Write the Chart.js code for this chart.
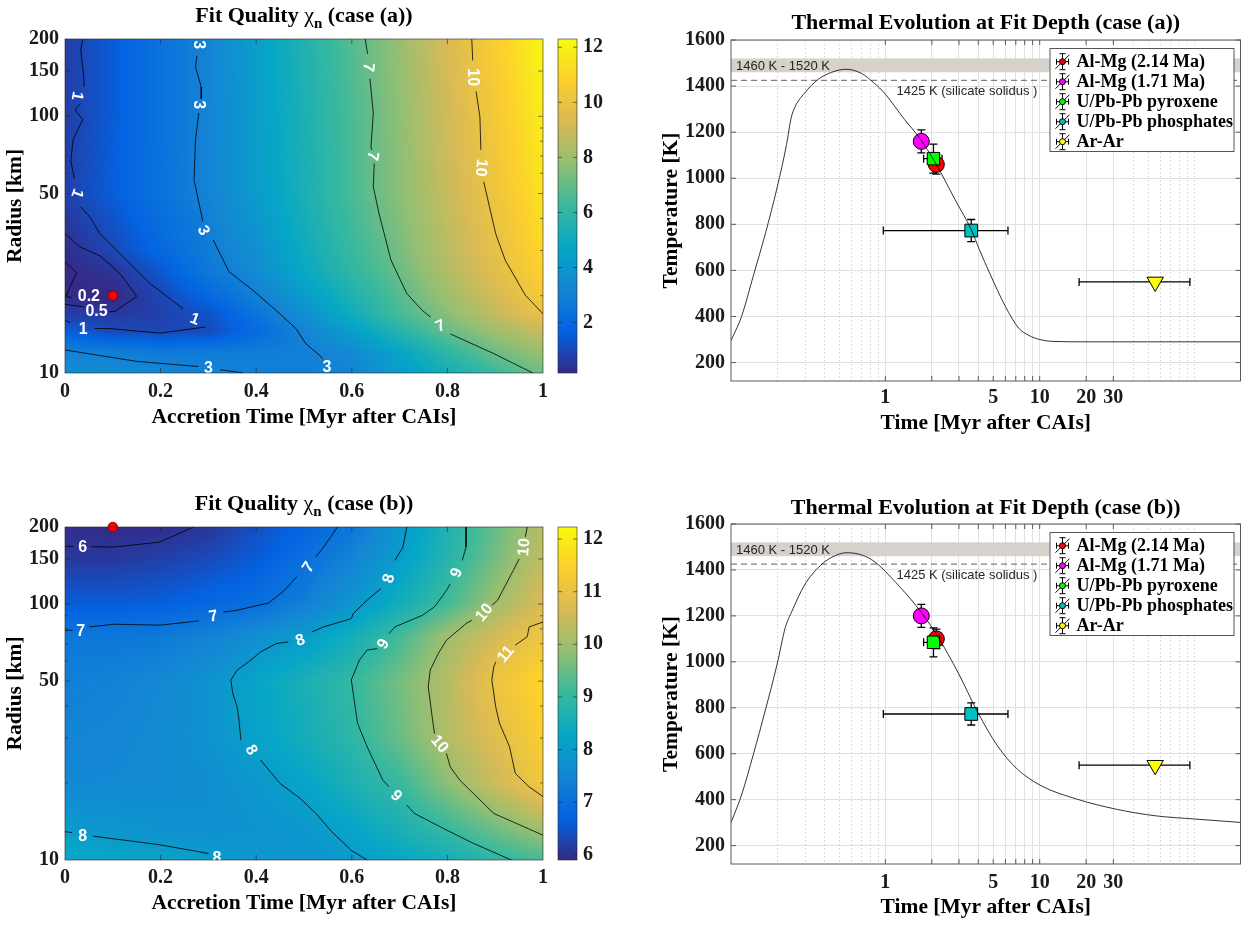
<!DOCTYPE html>
<html>
<head>
<meta charset="utf-8">
<title>Fit quality and thermal evolution</title>
<script src="https://cdn.jsdelivr.net/npm/chart.js@4.4.1/dist/chart.umd.min.js"></script>
<style>
  body { margin: 0; background: #fff; }
  #wrap { position: relative; width: 1251px; height: 925px; overflow: hidden; background: #fff; }
  canvas { position: absolute; }
</style>
</head>
<body>
<div id="wrap">
  <canvas id="mapA" width="555" height="440" style="left:0;top:0"></canvas>
  <canvas id="barA" width="80" height="440" style="left:540px;top:0"></canvas>
  <canvas id="thermA" width="631" height="450" style="left:620px;top:0"></canvas>
  <canvas id="mapB" width="555" height="445" style="left:0;top:480px"></canvas>
  <canvas id="barB" width="80" height="445" style="left:540px;top:480px"></canvas>
  <canvas id="thermB" width="631" height="445" style="left:620px;top:480px"></canvas>
</div>
<script>
// ---------- fit quality grids (rows = radius, columns = accretion time) ----------
const accTimes = [0, 0.1, 0.2, 0.3, 0.4, 0.5, 0.6, 0.7, 0.8, 0.9, 1];

const radiiA = [10, 12, 14.5, 17, 20, 25, 30, 50, 100, 200];
const chiA = [
  [3.6, 3.45, 3.3, 3.15, 2.97, 2.9, 3.15, 4.2, 5.2, 6.2, 7.2],
  [3.05, 2.9, 2.75, 2.75, 2.8, 2.95, 3.4, 4.6, 5.9, 7.1, 7.9],
  [1.6, 1.0, 0.95, 1.05, 2.0, 3.1, 4.3, 5.7, 7.0, 8.0, 8.9],
  [0.7, 0.55, 0.75, 1.25, 2.45, 3.6, 5.1, 6.5, 7.6, 8.8, 9.9],
  [0.2, 0.1, 0.9, 1.9, 2.95, 4.2, 5.5, 6.75, 8.0, 9.2, 10.5],
  [0.17, 0.45, 1.4, 2.6, 3.5, 4.8, 6.0, 7.1, 8.4, 9.6, 10.9],
  [0.25, 0.95, 1.9, 2.8, 3.7, 5.0, 6.2, 7.3, 8.6, 9.8, 11.1],
  [0.75, 1.55, 2.35, 3.12, 4.2, 5.35, 6.5, 7.65, 8.9, 10.15, 11.5],
  [0.7, 1.5, 2.3, 3.15, 4.25, 5.4, 6.55, 7.7, 9.1, 10.4, 11.8],
  [0.7, 1.5, 2.3, 3.15, 4.35, 5.55, 6.7, 7.9, 9.3, 10.7, 12.1]
];
const chiRangeA = [0.17, 12.3];
const barTicksA = [2, 4, 6, 8, 10, 12];
const bestFitA = [0.1, 20];

const radiiB = [10, 13, 20, 30, 50, 75, 100, 150, 200];
const chiB = [
  [8.35, 8.25, 8.15, 8.05, 7.9, 7.85, 7.95, 8.25, 8.55, 8.9, 9.2],
  [8.0, 7.9, 7.8, 7.75, 7.8, 7.9, 8.2, 8.6, 9.0, 9.5, 10.0],
  [7.55, 7.55, 7.6, 7.7, 7.9, 8.2, 8.65, 9.05, 9.8, 10.5, 11.2],
  [7.45, 7.5, 7.6, 7.8, 8.15, 8.5, 8.9, 9.5, 10.2, 10.8, 11.4],
  [7.35, 7.4, 7.55, 7.8, 8.2, 8.6, 9.0, 9.6, 10.25, 11.05, 11.6],
  [7.15, 7.15, 7.2, 7.4, 7.7, 8.0, 8.5, 9.15, 10.0, 10.6, 11.1],
  [6.6, 6.6, 6.65, 6.8, 6.95, 7.35, 7.85, 8.5, 9.15, 10.0, 10.7],
  [6.1, 6.1, 6.2, 6.35, 6.6, 6.95, 7.45, 8.05, 8.8, 9.6, 10.4],
  [5.95, 5.9, 5.95, 6.05, 6.4, 6.75, 7.15, 7.88, 8.7, 9.45, 10.25]
];
const chiRangeB = [5.9, 12.23];
const barTicksB = [6, 7, 8, 9, 10, 11, 12];
const bestFitB = [0.1, 200];

// contour lines [time, radius], null = gap for the label
const contA_02 = [[0, 27.1], [0.024, 24.6], [0.004, 20.3], [0.003, 19.8], [0.014, 19.7]];
const contA_05 = [[0, 34.9], [0.031, 31], [0.073, 28.6], [0.115, 24.4], [0.15, 19.9], [0.105, 17.4], [0.092, 17.3], null, [0.04, 18.1], [0, 18.5]];
const contA_1 = [[0.037, 200], [0.033, 181], [0.039, 143], [0.04, 130], null,
  [0.032, 112], [0.021, 106], [0.037, 97], [0.017, 81], [0.012, 67], [0.02, 57], null,
  [0.033, 44.4], [0.052, 40.5], [0.073, 34.9], [0.129, 27.5], [0.178, 22.3], [0.247, 17.8], null,
  [0.293, 15.1], [0.199, 14.3], [0.094, 14.9], [0.062, 14.9], null, [0.012, 15.7], [0, 16.0]];
const contA_3 = [[0.276, 172], [0.273, 156], [0.285, 130], [0.285, 117], null,
  [0.28, 103], [0.273, 81], [0.27, 56.4], [0.285, 41.8], [0.288, 39], null,
  [0.31, 33], [0.343, 24.8], [0.393, 21], [0.442, 17.5], [0.483, 14.9], [0.504, 13], [0.533, 11.7], [0.54, 11.3]];
const contA_3low = [[0, 12.3], [0.073, 11.7], [0.15, 11.1], [0.279, 10.6], null, [0.325, 10.3], [0.373, 10]];
const contA_7 = [[0.628, 200], [0.633, 175], null, [0.638, 140], [0.645, 103], [0.64, 76], [0.642, 74], null,
  [0.647, 65.5], [0.645, 53.1], [0.657, 41.8], [0.682, 27.5], [0.715, 20.4], [0.748, 17.5], [0.765, 16.5], null,
  [0.806, 14.2], [0.897, 11.9], [0.979, 10]];
const contA_10 = [[0.851, 200], [0.853, 165], null, [0.86, 125], [0.868, 99.6], [0.87, 74], null,
  [0.876, 55.6], [0.888, 44.4], [0.901, 34.9], [0.921, 27.5], [0.963, 20.1], [1, 17.0]];
const labelsA = [
  ['3', 0.281, 190, 90], ['1', 0.027, 120, 100], ['3', 0.281, 111, 90], ['7', 0.636, 155, 95],
  ['10', 0.855, 142, 90], ['7', 0.645, 70, 100], ['10', 0.872, 63, 95], ['1', 0.027, 50, 110],
  ['3', 0.291, 36, 65], ['0.2', 0.05, 20.1, 0], ['0.5', 0.066, 17.5, 0], ['1', 0.272, 16.3, 20],
  ['1', 0.038, 14.9, 0], ['7', 0.785, 15.3, -25], ['3', 0.3, 10.5, 0], ['3', 0.548, 10.6, 0]
];

const contB_6 = [[0, 168], [0.018, 168], null, [0.055, 167.5], [0.103, 167], [0.198, 174.6], [0.269, 200]];
const contB_7 = [[0, 79], [0.016, 79], null, [0.05, 81.4], [0.103, 83.4], [0.198, 82.7], [0.26, 85.1], [0.28, 86], null,
  [0.331, 93], [0.36, 94.6], [0.426, 101], [0.459, 113], [0.485, 128], null, [0.525, 153], [0.541, 167], [0.57, 200]];
const contB_8 = [[0.715, 200], [0.707, 167], [0.69, 148], null, [0.661, 115], [0.632, 103.5], [0.603, 91.8], [0.599, 87.7],
  [0.541, 81.4], [0.517, 77.9], null, [0.467, 71.1], [0.442, 70.1], [0.409, 65], [0.384, 59.4], [0.36, 55.2], [0.347, 50.5],
  [0.351, 44.8], [0.36, 39.7], [0.364, 35.2], [0.368, 29.4], null, [0.409, 24.6], [0.45, 19.9], [0.492, 17.4],
  [0.525, 15.2], [0.558, 12.9], [0.599, 10.9], [0.632, 10]];
const contB_8low = [[0, 12.9], [0.015, 12.8], null, [0.058, 12.4], [0.087, 12.2], [0.194, 11.5], [0.277, 10.8], [0.3, 10.6]];
const contB_9 = [[0.839, 200], [0.839, 167], [0.831, 148], null, [0.806, 120], [0.798, 113], [0.773, 97.5], [0.748, 90.4],
  [0.69, 81.4], [0.678, 76.7], null, [0.653, 67], [0.632, 66.1], [0.616, 60.4], [0.599, 50.5], [0.607, 39.7], [0.612, 34.2],
  [0.632, 27.7], [0.665, 20.5], [0.678, 19.3], null, [0.715, 16.4], [0.731, 15.2], [0.798, 13.1], [0.855, 11.6], [0.934, 10]];
const contB_10 = [[0.967, 200], [0.963, 183], null, [0.95, 150], [0.938, 135.5], [0.905, 103.5], [0.893, 98.9], null,
  [0.851, 86.4], [0.839, 83.9], [0.798, 72.2], [0.781, 64.1], [0.764, 55.2], [0.76, 47.5], [0.769, 35.2], [0.773, 31.2], null,
  [0.798, 26.1], [0.806, 23.1], [0.826, 20.5], [0.897, 15.2], [1, 12.5]];
const contB_11 = [[1, 85.1], [0.971, 81.4], [0.967, 74.5], [0.942, 69.1], null, [0.901, 59.4], [0.897, 56.9], [0.893, 50.5],
  [0.901, 39.7], [0.909, 34.2], [0.93, 27.7], [0.942, 21.8], [0.971, 19.3], [1, 17.7]];
const labelsB = [
  ['6', 0.037, 167, 0], ['7', 0.508, 140, -55], ['8', 0.676, 126, -75], ['9', 0.818, 133, -70],
  ['10', 0.959, 167, -85], ['10', 0.876, 93, -50], ['7', 0.31, 90, -10], ['7', 0.033, 79, 0],
  ['8', 0.492, 72.6, -20], ['9', 0.665, 70, -60], ['11', 0.921, 64, -50], ['8', 0.391, 27, 60],
  ['10', 0.785, 28.5, 50], ['9', 0.694, 17.9, 45], ['8', 0.037, 12.5, 0], ['8', 0.318, 10.2, 0]
];

// ---------- thermal evolution ----------
const curveTimeA = [0.1, 0.117, 0.14, 0.167, 0.199, 0.229, 0.245, 0.26, 0.3, 0.367, 0.45, 0.555, 0.7, 0.84, 1.0, 1.33, 1.66, 2.11, 2.83, 3.6, 4.07, 4.74, 6.0, 7.3, 8.5, 10, 12, 20, 50, 200];
const curveTempA = [295, 400, 580, 760, 960, 1146, 1260, 1310, 1370, 1429, 1460, 1473, 1455, 1415, 1365, 1255, 1176, 1067, 907, 777, 690, 588, 443, 350, 318, 300, 292, 290, 290, 290];
const curveTimeB = [0.1, 0.117, 0.14, 0.167, 0.199, 0.225, 0.248, 0.3, 0.379, 0.45, 0.562, 0.814, 1.23, 1.72, 2.21, 2.96, 3.98, 5.33, 7.16, 10.2, 17.3, 31.1, 55.9, 100, 200];
const curveTempB = [300, 420, 600, 790, 990, 1150, 1220, 1335, 1419, 1455, 1475, 1445, 1329, 1213, 1105, 953, 779, 634, 533, 461, 403, 359, 330, 316, 301];

const sampleNames = ['Al-Mg (2.14 Ma)', 'Al-Mg (1.71 Ma)', 'U/Pb-Pb pyroxene', 'U/Pb-Pb phosphates', 'Ar-Ar'];
const sampleTimes = [2.14, 1.71, 2.05, 3.6, 56];
const sampleTimeErr = [0, 0, 0.28, 2.63, 38];
const sampleTempA = [1060, 1160, 1085, 773, 550];
const sampleTempB = [1100, 1200, 1085, 773, 550];
const sampleTempErr = [42, 50, 63, 48, 0];

const meltBand = [1460, 1520];
const solidus = 1425;
const timeTicks = [1, 2, 3, 4, 5, 6, 7, 8, 9, 10, 20, 30];
const timeLabels = [1, 5, 10, 20, 30];
const timeMinorGrid = [0.2, 0.3, 0.4, 0.5, 0.6, 0.7, 0.8, 0.9, 40, 50, 60, 70, 80, 90, 100];
const tempTicks = [200, 400, 600, 800, 1000, 1200, 1400, 1600];

// ---------- styling ----------
const serif = '"Liberation Serif", "Times New Roman", Times, serif';
const sans = '"Liberation Sans", Arial, Helvetica, sans-serif';
const tickFont = { family: serif, size: 20, weight: 'bold', lineHeight: 1.2 };
const axisFont = { family: serif, size: 21.5, weight: 'bold', lineHeight: 1.2 };
const inkColor = '#1a1a1a';
const markerColor = ['#ff0000', '#ff00ff', '#00ff00', '#00bfbf', '#ffff00'];
const markerStyle = ['circle', 'circle', 'rect', 'rect', 'triangle'];
const markerSize = [8, 8, 8.8, 9, 9.5];
const markerRot = [0, 0, 0, 0, 180];

const PARULA = ['#352a87', '#0363e1', '#1485d4', '#06a7c6', '#38b99e', '#92bf73', '#d9ba56', '#fcce2e', '#f9fb0e']
  .map(h => [parseInt(h.slice(1, 3), 16), parseInt(h.slice(3, 5), 16), parseInt(h.slice(5, 7), 16)]);

function parula(f) {
  f = Math.min(1, Math.max(0, f)) * (PARULA.length - 1);
  const i = Math.min(PARULA.length - 2, Math.floor(f));
  const u = f - i, a = PARULA[i], b = PARULA[i + 1];
  return [a[0] + (b[0] - a[0]) * u, a[1] + (b[1] - a[1]) * u, a[2] + (b[2] - a[2]) * u];
}

// bilinear lookup in (time, log radius)
function lookup(ts, rs, vals, t, r) {
  const lr = Math.log10(r);
  let i = 0;
  while (i < ts.length - 2 && t > ts[i + 1]) i++;
  let j = 0;
  while (j < rs.length - 2 && lr > Math.log10(rs[j + 1])) j++;
  const cl = v => Math.min(1, Math.max(0, v));
  const u = cl((t - ts[i]) / (ts[i + 1] - ts[i]));
  const l0 = Math.log10(rs[j]), l1 = Math.log10(rs[j + 1]);
  const v = cl((lr - l0) / (l1 - l0));
  return vals[j][i] * (1 - u) * (1 - v) + vals[j][i + 1] * u * (1 - v) +
    vals[j + 1][i] * (1 - u) * v + vals[j + 1][i + 1] * u * v;
}

function toPoints(line) {
  const out = [];
  let lastX = 0;
  line.forEach(p => {
    if (p) { out.push({ x: p[0], y: p[1] }); lastX = p[0]; }
    else out.push({ x: lastX, y: null });
  });
  return out;
}

function titlePlugin(parts, yc) {
  return {
    id: 'panelTitle',
    afterDraw(chart) {
      const { ctx, chartArea: a } = chart;
      ctx.save();
      ctx.fillStyle = '#000';
      ctx.textBaseline = 'alphabetic';
      let total = 0;
      const widths = parts.map(p => { ctx.font = p.font; const w = ctx.measureText(p.text).width; total += w; return w; });
      let x = (a.left + a.right) / 2 - total / 2;
      parts.forEach((p, k) => {
        ctx.font = p.font;
        ctx.fillText(p.text, x, yc + 7 + (p.dy || 0));
        x += widths[k];
      });
      ctx.restore();
    }
  };
}

function heatPlugin(rs, vals, range, labels, yMinor) {
  return {
    id: 'heat',
    beforeDatasetsDraw(chart) {
      const { ctx, chartArea: a, scales } = chart;
      const x0 = Math.round(a.left), y0 = Math.round(a.top);
      const w = Math.round(a.right) - x0, h = Math.round(a.bottom) - y0;
      const img = ctx.createImageData(w, h);
      const tcol = [];
      for (let i = 0; i < w; i++) tcol.push(scales.x.getValueForPixel(x0 + i + 0.5));
      for (let j = 0; j < h; j++) {
        const r = scales.y.getValueForPixel(y0 + j + 0.5);
        for (let i = 0; i < w; i++) {
          const v = lookup(accTimes, rs, vals, tcol[i], r);
          const c = parula((v - range[0]) / (range[1] - range[0]));
          const k = (j * w + i) * 4;
          img.data[k] = c[0]; img.data[k + 1] = c[1]; img.data[k + 2] = c[2]; img.data[k + 3] = 255;
        }
      }
      ctx.putImageData(img, x0, y0);
    },
    afterDatasetsDraw(chart) {
      const { ctx, chartArea: a, scales: { x, y } } = chart;
      ctx.save();
      ctx.beginPath();
      ctx.rect(a.left, a.top, a.right - a.left, a.bottom - a.top);
      ctx.clip();
      ctx.fillStyle = '#fff';
      ctx.font = `bold 16px ${sans}`;
      ctx.textAlign = 'center';
      ctx.textBaseline = 'middle';
      labels.forEach(([txt, t, r, ang]) => {
        ctx.save();
        ctx.translate(x.getPixelForValue(t), y.getPixelForValue(r));
        ctx.rotate(ang * Math.PI / 180);
        ctx.fillText(txt, 0, 1);
        ctx.restore();
      });
      ctx.restore();
      // axes box with inward ticks
      ctx.save();
      ctx.strokeStyle = 'rgba(38,38,38,0.75)';
      ctx.lineWidth = 0.8;
      ctx.strokeRect(a.left, a.top, a.right - a.left, a.bottom - a.top);
      ctx.beginPath();
      [0.2, 0.4, 0.6, 0.8].forEach(v => {
        const px = x.getPixelForValue(v);
        ctx.moveTo(px, a.bottom); ctx.lineTo(px, a.bottom - 5);
        ctx.moveTo(px, a.top); ctx.lineTo(px, a.top + 5);
      });
      [50, 100, 150].forEach(v => {
        const py = y.getPixelForValue(v);
        ctx.moveTo(a.left, py); ctx.lineTo(a.left + 5, py);
        ctx.moveTo(a.right, py); ctx.lineTo(a.right - 5, py);
      });
      yMinor.forEach(v => {
        const py = y.getPixelForValue(v);
        ctx.moveTo(a.left, py); ctx.lineTo(a.left + 3, py);
        ctx.moveTo(a.right, py); ctx.lineTo(a.right - 3, py);
      });
      ctx.stroke();
      ctx.restore();
    }
  };
}

function makeMap(id, rs, vals, range, contours, labels, best, caseTag, geo) {
  const datasets = contours.map(line => ({
    data: toPoints(line), showLine: true, spanGaps: false, borderColor: '#000', borderWidth: 0.8,
    pointRadius: 0, tension: 0, order: 2
  }));
  datasets.push({
    data: [{ x: best[0], y: best[1] }], pointRadius: 4.8, backgroundColor: '#ff0000',
    borderColor: '#7a0000', borderWidth: 0.8, clip: false, order: 1
  });
  new Chart(document.getElementById(id), {
    type: 'scatter',
    data: { datasets },
    options: {
      responsive: false, animation: false, events: [],
      layout: { padding: { left: 0, top: geo.top, right: 12, bottom: 0 } },
      plugins: { legend: { display: false }, tooltip: { enabled: false } },
      scales: {
        x: {
          type: 'linear', min: 0, max: 1,
          grid: { display: false, drawTicks: false }, border: { display: false },
          afterBuildTicks: s => { s.ticks = [0, 0.2, 0.4, 0.6, 0.8, 1].map(v => ({ value: v })); },
          ticks: { autoSkip: false, maxRotation: 0, padding: geo.xTickPad, color: inkColor, font: tickFont,
            callback: v => String(Math.round(v * 10) / 10) },
          title: { display: true, text: 'Accretion Time [Myr after CAIs]', color: '#000', font: axisFont,
            padding: { top: 0, bottom: geo.xTitlePad } },
          afterFit: s => { s.height = geo.xH; }
        },
        y: {
          type: 'logarithmic', min: 10, max: 200,
          grid: { display: false, drawTicks: false }, border: { display: false },
          afterBuildTicks: s => { s.ticks = [10, 50, 100, 150, 200].map(v => ({ value: v })); },
          ticks: { autoSkip: false, padding: 6, color: inkColor, font: tickFont, callback: v => String(v) },
          title: { display: true, text: 'Radius [km]', color: '#000', font: axisFont, padding: { top: 3, bottom: 0 } },
          afterFit: s => { s.width = 65; }
        }
      }
    },
    plugins: [
      heatPlugin(rs, vals, range, labels, [20, 30, 40, 60, 70, 80, 90]),
      titlePlugin([
        { text: 'Fit Quality ', font: `bold 22px ${serif}` },
        { text: 'χ', font: `22px ${serif}` },
        { text: 'n', font: `bold 15px ${serif}`, dy: 6 },
        { text: ` (case (${caseTag}))`, font: `bold 22px ${serif}` }
      ], geo.titleY)
    ]
  });
}

function makeBar(id, range, ticks, geo) {
  const barPlugin = {
    id: 'colorbar',
    beforeDatasetsDraw(chart) {
      const { ctx, chartArea: a, scales: { y } } = chart;
      for (let py = Math.floor(a.top); py < Math.ceil(a.bottom); py++) {
        const v = y.getValueForPixel(py + 0.5);
        const c = parula((v - range[0]) / (range[1] - range[0]));
        ctx.fillStyle = `rgb(${c[0] | 0},${c[1] | 0},${c[2] | 0})`;
        ctx.fillRect(a.left, py, a.right - a.left, 1);
      }
      ctx.save();
      ctx.strokeStyle = 'rgba(38,38,38,0.75)';
      ctx.lineWidth = 0.8;
      ctx.strokeRect(a.left, a.top, a.right - a.left, a.bottom - a.top);
      ctx.beginPath();
      ticks.forEach(v => {
        const py = y.getPixelForValue(v);
        ctx.moveTo(a.right, py); ctx.lineTo(a.right - 4, py);
        ctx.moveTo(a.left, py); ctx.lineTo(a.left + 4, py);
      });
      ctx.stroke();
      ctx.restore();
    }
  };
  new Chart(document.getElementById(id), {
    type: 'scatter',
    data: { datasets: [] },
    options: {
      responsive: false, animation: false, events: [],
      layout: { padding: { left: 18, top: geo.top, right: 0, bottom: geo.bottom } },
      plugins: { legend: { display: false }, tooltip: { enabled: false } },
      scales: {
        x: { display: false, min: 0, max: 1 },
        y: {
          position: 'right', min: range[0], max: range[1],
          grid: { display: false, drawTicks: false }, border: { display: false },
          afterBuildTicks: s => { s.ticks = ticks.map(v => ({ value: v })); },
          ticks: { autoSkip: false, padding: 6, color: inkColor, font: tickFont, callback: v => String(v) },
          afterFit: s => { s.width = 43; }
        }
      }
    },
    plugins: [barPlugin]
  });
}

function thermalPlugin() {
  return {
    id: 'thermalDecor',
    beforeDatasetsDraw(chart) {
      const { ctx, chartArea: a, scales: { x, y } } = chart;
      ctx.save();
      ctx.beginPath();
      ctx.rect(a.left, a.top, a.right - a.left, a.bottom - a.top);
      ctx.clip();
      // minor grid
      ctx.strokeStyle = '#d2d2d2';
      ctx.lineWidth = 1;
      ctx.setLineDash([1.5, 2.5]);
      ctx.beginPath();
      timeMinorGrid.forEach(v => {
        const px = Math.round(x.getPixelForValue(v)) + 0.5;
        ctx.moveTo(px, a.top); ctx.lineTo(px, a.bottom);
      });
      ctx.stroke();
      ctx.setLineDash([]);
      // melting band and solidus
      const yHi = y.getPixelForValue(meltBand[1]), yLo = y.getPixelForValue(meltBand[0]);
      ctx.fillStyle = 'rgb(214,210,203)';
      ctx.fillRect(a.left, yHi, a.right - a.left, yLo - yHi);
      ctx.strokeStyle = '#808080';
      ctx.lineWidth = 1.2;
      ctx.setLineDash([6, 4]);
      ctx.beginPath();
      const ys = y.getPixelForValue(solidus);
      ctx.moveTo(a.left, ys); ctx.lineTo(a.right, ys);
      ctx.stroke();
      ctx.setLineDash([]);
      ctx.fillStyle = '#262626';
      ctx.font = `13px ${sans}`;
      ctx.textBaseline = 'middle';
      ctx.fillText('1460 K - 1520 K', a.left + 5, (yHi + yLo) / 2 + 1);
      ctx.fillText('1425 K (silicate solidus )', x.getPixelForValue(1.18), y.getPixelForValue(1378));
      // error bars
      ctx.strokeStyle = '#000';
      ctx.lineWidth = 1.3;
      chart.data.datasets.forEach(ds => {
        if (ds.sampleIndex === undefined) return;
        const k = ds.sampleIndex, p = ds.data[0];
        const cx = x.getPixelForValue(p.x), cy = y.getPixelForValue(p.y);
        ctx.beginPath();
        if (sampleTempErr[k] > 0) {
          const y1 = y.getPixelForValue(p.y + sampleTempErr[k]), y2 = y.getPixelForValue(p.y - sampleTempErr[k]);
          ctx.moveTo(cx, y1); ctx.lineTo(cx, y2);
          ctx.moveTo(cx - 4, y1); ctx.lineTo(cx + 4, y1);
          ctx.moveTo(cx - 4, y2); ctx.lineTo(cx + 4, y2);
        }
        if (sampleTimeErr[k] > 0) {
          const x1 = x.getPixelForValue(p.x - sampleTimeErr[k]), x2 = x.getPixelForValue(p.x + sampleTimeErr[k]);
          ctx.moveTo(x1, cy); ctx.lineTo(x2, cy);
          ctx.moveTo(x1, cy - 4); ctx.lineTo(x1, cy + 4);
          ctx.moveTo(x2, cy - 4); ctx.lineTo(x2, cy + 4);
        }
        ctx.stroke();
      });
      ctx.restore();
    },
    afterDatasetsDraw(chart) {
      const { ctx, chartArea: a, scales: { x, y } } = chart;
      ctx.save();
      ctx.strokeStyle = '#5a5a5a';
      ctx.lineWidth = 1;
      ctx.strokeRect(a.left, a.top, a.right - a.left, a.bottom - a.top);
      ctx.beginPath();
      timeTicks.forEach(v => {
        const px = x.getPixelForValue(v);
        ctx.moveTo(px, a.bottom); ctx.lineTo(px, a.bottom - 5);
        ctx.moveTo(px, a.top); ctx.lineTo(px, a.top + 5);
      });
      tempTicks.forEach(v => {
        const py = y.getPixelForValue(v);
        ctx.moveTo(a.left, py); ctx.lineTo(a.left + 5, py);
        ctx.moveTo(a.right, py); ctx.lineTo(a.right - 5, py);
      });
      ctx.stroke();
      ctx.restore();
    },
    afterDraw(chart) {
      const { ctx, chartArea: a } = chart;
      const w = 184, h = 103, left = a.right - 7 - w, top = a.top + 8;
      ctx.save();
      ctx.fillStyle = '#fff';
      ctx.fillRect(left, top, w, h);
      ctx.strokeStyle = '#555';
      ctx.lineWidth = 1;
      ctx.strokeRect(left + 0.5, top + 0.5, w, h);
      ctx.font = `bold 18px ${serif}`;
      ctx.textBaseline = 'middle';
      chart.data.datasets.forEach(ds => {
        if (ds.sampleIndex === undefined) return;
        const k = ds.sampleIndex;
        const cy = top + 13.7 + 20 * k, cx = left + 13;
        ctx.strokeStyle = '#000';
        ctx.lineWidth = 1;
        ctx.beginPath();
        ctx.moveTo(cx, cy - 8); ctx.lineTo(cx, cy + 8);
        ctx.moveTo(cx - 3, cy - 8); ctx.lineTo(cx + 3, cy - 8);
        ctx.moveTo(cx - 3, cy + 8); ctx.lineTo(cx + 3, cy + 8);
        ctx.moveTo(cx - 6, cy); ctx.lineTo(cx + 6, cy);
        ctx.moveTo(cx - 6, cy - 3); ctx.lineTo(cx - 6, cy + 3);
        ctx.moveTo(cx + 6, cy - 3); ctx.lineTo(cx + 6, cy + 3);
        ctx.moveTo(cx - 7, cy + 7); ctx.lineTo(cx + 7, cy - 7);
        ctx.stroke();
        ctx.fillStyle = markerColor[k];
        ctx.beginPath();
        ctx.arc(cx, cy, 3, 0, Math.PI * 2);
        ctx.fill();
        ctx.stroke();
        ctx.fillStyle = '#000';
        ctx.fillText(ds.label, left + 27, cy + 1);
      });
      ctx.restore();
    }
  };
}

function makeThermal(id, curveTime, curveTemp, temps, caseTag, geo) {
  const datasets = [{
    data: curveTime.map((t, i) => ({ x: t, y: curveTemp[i] })),
    showLine: true, borderColor: '#000', borderWidth: 0.8, pointRadius: 0,
    cubicInterpolationMode: 'monotone', order: 0
  }];
  sampleNames.forEach((name, k) => {
    datasets.push({
      label: name, sampleIndex: k,
      data: [{ x: sampleTimes[k], y: temps[k] }],
      pointStyle: markerStyle[k], pointRadius: markerSize[k], pointRotation: markerRot[k],
      backgroundColor: markerColor[k], borderColor: '#000', borderWidth: 1, order: 5 - k
    });
  });
  new Chart(document.getElementById(id), {
    type: 'scatter',
    data: { datasets },
    options: {
      responsive: false, animation: false, events: [],
      layout: { padding: { left: 0, top: geo.top, right: 1, bottom: 0 } },
      plugins: { legend: { display: false }, tooltip: { enabled: false } },
      scales: {
        x: {
          type: 'logarithmic', min: 0.1, max: 200,
          grid: { color: '#e1e1e1', lineWidth: 1, drawTicks: false }, border: { display: false },
          afterBuildTicks: s => { s.ticks = timeTicks.map(v => ({ value: v })); },
          ticks: { autoSkip: false, maxRotation: 0, padding: geo.xTickPad, color: inkColor, font: tickFont,
            callback: v => (timeLabels.includes(v) ? String(v) : '') },
          title: { display: true, text: 'Time [Myr after CAIs]', color: '#000', font: axisFont,
            padding: { top: 0, bottom: geo.xTitlePad } },
          afterFit: s => { s.height = geo.xH; }
        },
        y: {
          type: 'linear', min: 120, max: 1600,
          grid: { color: '#e1e1e1', lineWidth: 1, drawTicks: false }, border: { display: false },
          afterBuildTicks: s => { s.ticks = tempTicks.map(v => ({ value: v })); },
          ticks: { autoSkip: false, padding: 6, color: inkColor, font: tickFont, callback: v => String(v) },
          title: { display: true, text: 'Temperature [K]', color: '#000', font: axisFont, padding: { top: 39, bottom: 0 } },
          afterFit: s => { s.width = 111; }
        }
      }
    },
    plugins: [
      thermalPlugin(),
      titlePlugin([{ text: `Thermal Evolution at Fit Depth (case (${caseTag}))`, font: `bold 22px ${serif}` }], geo.titleY)
    ]
  });
}

makeMap('mapA', radiiA, chiA, chiRangeA, [contA_02, contA_05, contA_1, contA_3, contA_3low, contA_7, contA_10],
  labelsA, bestFitA, 'a', { top: 39, xH: 67, xTickPad: 7, xTitlePad: 10, titleY: 15 });
makeBar('barA', chiRangeA, barTicksA, { top: 39, bottom: 67 });
makeThermal('thermA', curveTimeA, curveTempA, sampleTempA, 'a',
  { top: 40, xH: 69, xTickPad: 5, xTitlePad: 14, titleY: 22 });

makeMap('mapB', radiiB, chiB, chiRangeB, [contB_6, contB_7, contB_8, contB_8low, contB_9, contB_10, contB_11],
  labelsB, bestFitB, 'b', { top: 47, xH: 65, xTickPad: 6, xTitlePad: 9, titleY: 23 });
makeBar('barB', chiRangeB, barTicksB, { top: 47, bottom: 65 });
makeThermal('thermB', curveTimeB, curveTempB, sampleTempB, 'b',
  { top: 44, xH: 61, xTickPad: 7, xTitlePad: 5, titleY: 27 });
</script>
</body>
</html>
